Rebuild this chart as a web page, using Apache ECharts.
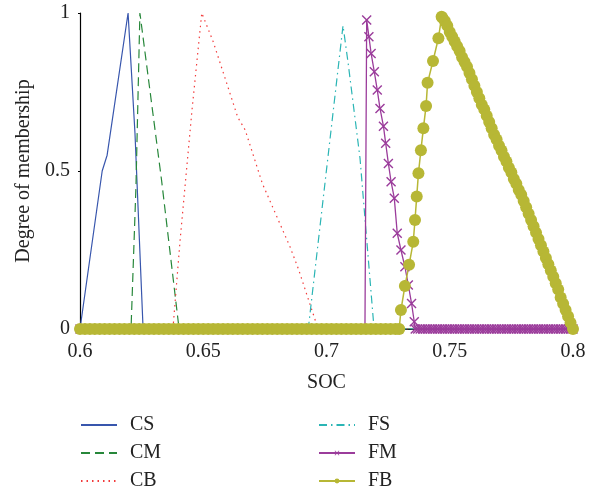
<!DOCTYPE html>
<html>
<head>
<meta charset="utf-8">
<script src="https://cdn.jsdelivr.net/npm/echarts@6/dist/echarts.min.js"></script>
<style>
  html, body { margin: 0; padding: 0; background: #fff; }
  #chart { width: 598px; height: 489px; }
</style>
</head>
<body>
<div id="chart"></div>
<script>
// membership functions (x = SOC, y = degree of membership)
const xTicks = [0.6, 0.65, 0.7, 0.75, 0.8]
const yTicks = [0, 0.5, 1]

const csSoc = [0.6, 0.609, 0.611, 0.6195, 0.6223, 0.6256, 0.8]
const csDeg = [0, 0.5, 0.55, 1, 0.62, 0, 0]

const cmSoc = [0.6, 0.6207, 0.6227, 0.6243, 0.6331, 0.6402, 0.8]
const cmDeg = [0, 0, 0.45, 1, 0.47, 0, 0]

const cbSoc = [0.6, 0.6377, 0.6406, 0.6454, 0.6494, 0.654, 0.664, 0.667, 0.674, 0.6852, 0.6886, 0.6966, 0.8]
const cbDeg = [0, 0, 0.28, 0.69, 1, 0.91, 0.67, 0.63, 0.46, 0.26, 0.19, 0, 0]

const fsSoc = [0.6, 0.6926, 0.7067, 0.7088, 0.7136, 0.7193, 0.8]
const fsDeg = [0, 0, 0.96, 0.84, 0.54, 0, 0]

const fmSoc = [
  0.6, 0.7156, 0.7163, 0.7172, 0.7181, 0.7194, 0.7206, 0.7217, 0.7231, 0.7240,
  0.7251, 0.7262, 0.7275, 0.7287, 0.7302, 0.7318, 0.7332, 0.7345, 0.7356,
  0.736, 0.737, 0.738, 0.739, 0.740, 0.741, 0.742, 0.743, 0.744, 0.745,
  0.746, 0.747, 0.748, 0.749, 0.750, 0.751, 0.752, 0.753, 0.754, 0.755,
  0.756, 0.757, 0.758, 0.759, 0.760, 0.761, 0.762, 0.763, 0.764, 0.765,
  0.766, 0.767, 0.768, 0.769, 0.770, 0.771, 0.772, 0.773, 0.774, 0.775,
  0.776, 0.777, 0.778, 0.779, 0.780, 0.781, 0.782, 0.783, 0.784, 0.785,
  0.786, 0.787, 0.788, 0.789, 0.790, 0.791, 0.792, 0.793, 0.794, 0.795,
  0.796, 0.797, 0.798, 0.799, 0.800
]
const fmDeg = [
  0, 0, 0.978, 0.925, 0.872, 0.814, 0.756, 0.698, 0.642, 0.588,
  0.524, 0.466, 0.414, 0.303, 0.25, 0.197, 0.139, 0.081, 0.023,
  0, 0, 0, 0, 0, 0, 0, 0, 0, 0,
  0, 0, 0, 0, 0, 0, 0, 0, 0, 0,
  0, 0, 0, 0, 0, 0, 0, 0, 0, 0,
  0, 0, 0, 0, 0, 0, 0, 0, 0, 0,
  0, 0, 0, 0, 0, 0, 0, 0, 0, 0,
  0, 0, 0, 0, 0, 0, 0, 0, 0, 0,
  0, 0, 0, 0, 0
]

const fbSoc = [
  0.600, 0.602, 0.604, 0.606, 0.608, 0.610, 0.612, 0.614, 0.616, 0.618,
  0.620, 0.622, 0.624, 0.626, 0.628, 0.630, 0.632, 0.634, 0.636, 0.638,
  0.640, 0.642, 0.644, 0.646, 0.648, 0.650, 0.652, 0.654, 0.656, 0.658,
  0.660, 0.662, 0.664, 0.666, 0.668, 0.670, 0.672, 0.674, 0.676, 0.678,
  0.680, 0.682, 0.684, 0.686, 0.688, 0.690, 0.692, 0.694, 0.696, 0.698,
  0.700, 0.702, 0.704, 0.706, 0.708, 0.710, 0.712, 0.714, 0.716, 0.718,
  0.720, 0.722, 0.724, 0.726, 0.728, 0.7295,
  0.7302, 0.7318, 0.7335, 0.7352, 0.7359, 0.7366, 0.7373, 0.7383, 0.7393, 0.7404,
  0.7410, 0.7432, 0.7454, 0.7467,
  0.747, 0.748, 0.749, 0.750, 0.751, 0.752, 0.753, 0.754, 0.755, 0.756,
  0.757, 0.758, 0.759, 0.760, 0.761, 0.762, 0.763, 0.764, 0.765, 0.766,
  0.767, 0.768, 0.769, 0.770, 0.771, 0.772, 0.773, 0.774, 0.775, 0.776,
  0.777, 0.778, 0.779, 0.780, 0.781, 0.782, 0.783, 0.784, 0.785, 0.786,
  0.787, 0.788, 0.789, 0.790, 0.791, 0.792, 0.793, 0.794, 0.795, 0.796,
  0.797, 0.798, 0.799, 0.800
]
const fbDeg = [
  0, 0, 0, 0, 0, 0, 0, 0, 0, 0,
  0, 0, 0, 0, 0, 0, 0, 0, 0, 0,
  0, 0, 0, 0, 0, 0, 0, 0, 0, 0,
  0, 0, 0, 0, 0, 0, 0, 0, 0, 0,
  0, 0, 0, 0, 0, 0, 0, 0, 0, 0,
  0, 0, 0, 0, 0, 0, 0, 0, 0, 0,
  0, 0, 0, 0, 0, 0,
  0.06, 0.136, 0.203, 0.276, 0.345, 0.419, 0.493, 0.566, 0.635, 0.706,
  0.779, 0.848, 0.92, 0.988,
  0.985, 0.975, 0.96, 0.94, 0.925, 0.91, 0.895, 0.88, 0.86, 0.845,
  0.83, 0.81, 0.79, 0.77, 0.75, 0.73, 0.71, 0.695, 0.675, 0.655,
  0.635, 0.615, 0.6, 0.58, 0.565, 0.545, 0.53, 0.51, 0.495, 0.475,
  0.46, 0.44, 0.425, 0.405, 0.385, 0.365, 0.345, 0.325, 0.305, 0.285,
  0.265, 0.245, 0.225, 0.205, 0.185, 0.165, 0.145, 0.125, 0.1, 0.08,
  0.06, 0.04, 0.02, 0
]

const fontFamily = '"Liberation Serif", "DejaVu Serif", serif'
const fontColor = '#222'
const crossPath = 'path://M0,1L1,0L5,4L9,0L10,1L6,5L10,9L9,10L5,6L1,10L0,9L4,5Z'

const pairs = (xs, ys) => xs.map((x, i) => [x, ys[i]])

const lineSeries = (name, xs, ys, color, type) => ({
  name,
  type: 'line',
  data: pairs(xs, ys),
  symbol: 'none',
  animation: false,
  itemStyle: { color },
  lineStyle: { color, width: 1.2, type }
})

// plain-line entries get no marker in the legend
const plainItem = name => ({ name, itemStyle: { opacity: 0 } })

const legendBase = {
  orient: 'vertical',
  top: 415,
  height: 100,
  padding: 0,
  itemWidth: 36,
  itemHeight: 6,
  itemGap: 8,
  textStyle: { fontFamily, fontSize: 20, lineHeight: 19, color: fontColor, padding: [0, 0, 0, 8] }
}

const option = {
  backgroundColor: '#fff',
  animation: false,
  grid: { left: 80, right: 25, top: 13, bottom: 160, containLabel: false },
  legend: [
    { ...legendBase, left: 80, data: [plainItem('CS'), plainItem('CM'), plainItem('CB')] },
    { ...legendBase, left: 318, data: [plainItem('FS'), 'FM', 'FB'] }
  ],
  xAxis: {
    type: 'value',
    min: xTicks[0],
    max: xTicks[xTicks.length - 1],
    interval: 0.05,
    name: 'SOC',
    nameLocation: 'middle',
    nameGap: 44,
    nameTextStyle: { fontFamily, fontSize: 20, color: fontColor },
    axisLine: { lineStyle: { color: '#000', width: 1 } },
    axisTick: { show: false },
    splitLine: { show: false },
    axisLabel: {
      fontFamily, fontSize: 20, color: fontColor, margin: 13,
      formatter: v => String(+v.toFixed(2))
    }
  },
  yAxis: {
    type: 'value',
    min: yTicks[0],
    max: yTicks[yTicks.length - 1],
    interval: 0.5,
    name: 'Degree of membership',
    nameLocation: 'middle',
    nameGap: 42,
    nameTextStyle: { fontFamily, fontSize: 20, color: fontColor },
    axisLine: { lineStyle: { color: '#000', width: 1.2 } },
    axisTick: { show: true, length: 2, lineStyle: { color: '#000' } },
    splitLine: { show: false },
    axisLabel: { fontFamily, fontSize: 20, color: fontColor, margin: 10 }
  },
  series: [
    lineSeries('CS', csSoc, csDeg, '#3856ad', 'solid'),
    lineSeries('CM', cmSoc, cmDeg, '#27873a', [9, 5]),
    lineSeries('CB', cbSoc, cbDeg, '#f23b3b', [1.5, 4]),
    lineSeries('FS', fsSoc, fsDeg, '#2bb5b5', [8, 4, 1.5, 4]),
    {
      name: 'FM',
      type: 'line',
      data: pairs(fmSoc, fmDeg),
      symbol: crossPath,
      symbolSize: 10,
      showAllSymbol: true,
      itemStyle: { color: '#9b3c9b' },
      lineStyle: { color: '#9b3c9b', width: 1.3 }
    },
    {
      name: 'FB',
      type: 'line',
      data: pairs(fbSoc, fbDeg),
      symbol: 'circle',
      symbolSize: 12,
      showAllSymbol: true,
      itemStyle: { color: '#b7b735' },
      lineStyle: { color: '#b7b735', width: 1.5 }
    }
  ]
}

const myChart = echarts.init(document.getElementById('chart'), null, { renderer: 'canvas' })
myChart.setOption(option)
</script>
</body>
</html>
